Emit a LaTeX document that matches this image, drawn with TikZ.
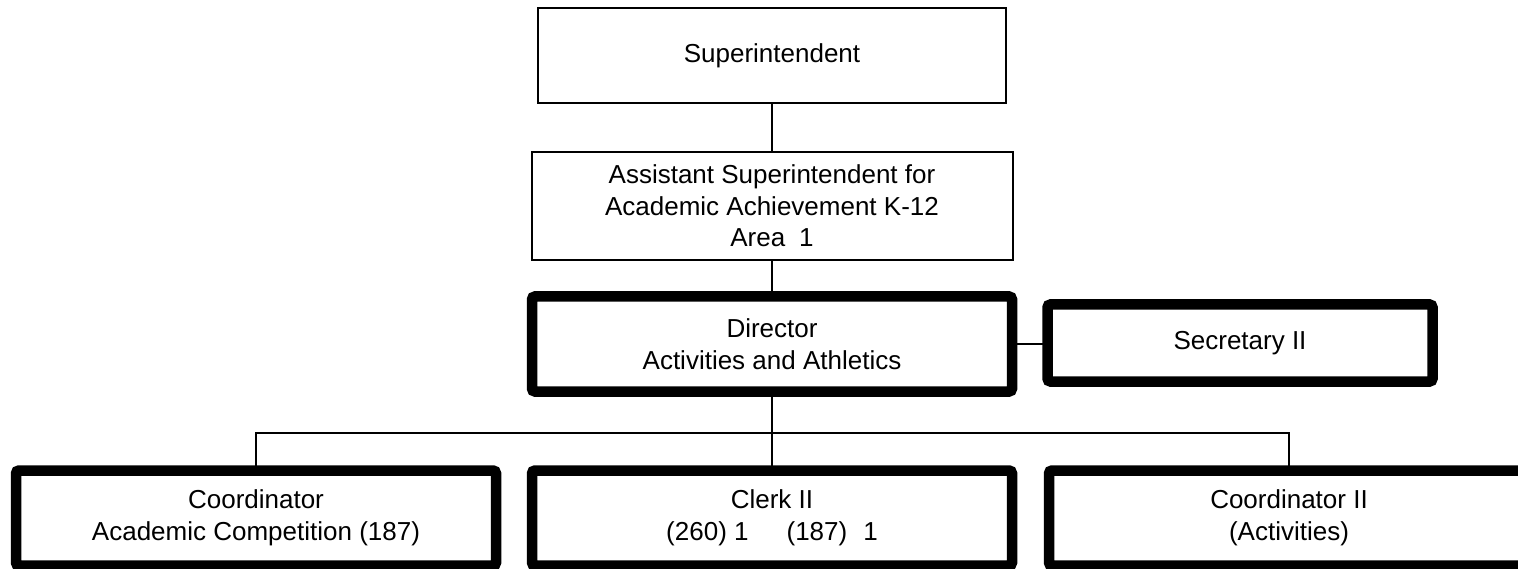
\documentclass[tikz,border=0pt]{standalone}
\usepackage{fontspec}
\setmainfont{Liberation Sans}

\begin{document}
\begin{tikzpicture}[%
    thinbox/.style = {rectangle, draw, line width = 2pt, inner sep = 0pt, outer sep = 0pt, align = center},
    thickbox/.style = {rectangle, draw, line width = 10.5pt, rounded corners = 3pt, inner sep = 0pt, outer sep = 0pt, align = center},
    link/.style = {line width = 2pt},
    every node/.style = {font = \fontsize{26}{31.5}\selectfont},
    x = 1pt, y = -1pt]

    \useasboundingbox (0, 0) rectangle (1518, 569);

    \node[thinbox, minimum width = 468pt, minimum height = 95pt] (sup) at (772, 55.5) {Superintendent};
    \node[thinbox, minimum width = 481pt, minimum height = 108pt] (asst) at (772, 206) {Assistant Superintendent for\\Academic Achievement K-12\\Area\hspace{14pt}1};
    \node[thickbox, minimum width = 480pt, minimum height = 95pt] (dir) at (772, 344) {Director\\Activities and Athletics};
    \node[thickbox, minimum width = 385pt, minimum height = 77pt] (sec) at (1240, 343) {Secretary II};
    \node[thickbox, minimum width = 480pt, minimum height = 95pt] (coord) at (256, 518) {Coordinator\\Academic Competition (187)};
    \node[thickbox, minimum width = 480pt, minimum height = 95pt] (clerk) at (772, 518) {Clerk II\\(260) 1\hspace{38pt}(187)\hspace{16pt}1};
    \node[thickbox, minimum width = 480pt, minimum height = 95pt] (coordii) at (1289, 518) {Coordinator II\\(Activities)};

    \coordinate (branch) at (772, 433);

    \draw[link] (sup) -- (asst);
    \draw[link] (asst) -- (dir);
    \draw[link] (dir.east) -- (sec.west |- dir.east);
    \draw[link] (dir) -- (clerk);
    \draw[link] (coord.north) |- (branch) -| (coordii.north);
\end{tikzpicture}
\end{document}
